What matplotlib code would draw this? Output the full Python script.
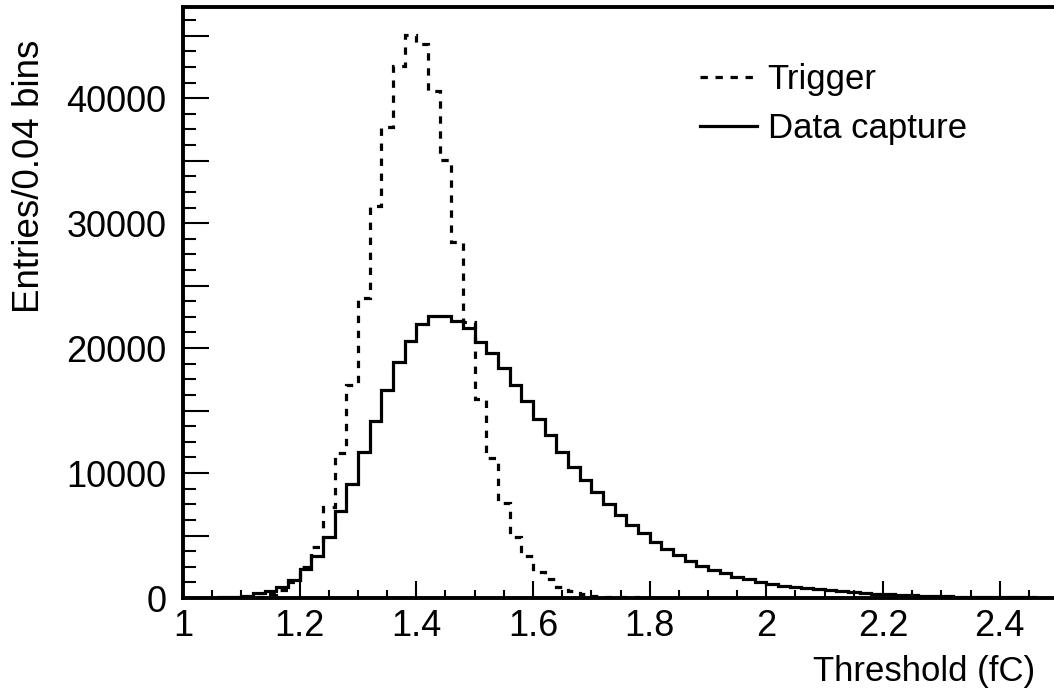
import numpy as np
import matplotlib.pyplot as plt
from matplotlib.ticker import MultipleLocator, FuncFormatter

plt.rcParams['font.family'] = ['Liberation Sans', 'DejaVu Sans']

# histogram binning (0.02 wide steps from 1.0 to 2.5)
edges = np.linspace(1.0, 2.5, 76)

trigger = [0, 0, 0, 5, 20, 50, 120, 300, 640, 1300,
           2500, 4100, 7300, 11600, 17040, 23980, 31400, 37700, 42580, 45060,
           44320, 40580, 35040, 28500, 22080, 15900, 11200, 7620, 4880, 3340,
           2100, 1500, 900, 550, 350, 200, 120, 80, 50, 30,
           20, 10, 8, 5, 4, 3, 2, 1, 1, 0,
           0, 0, 0, 0, 0, 0, 0, 0, 0, 0,
           0, 0, 0, 0, 0, 0, 0, 0, 0, 0,
           0, 0, 0, 0, 0]

capture = [5, 10, 20, 50, 100, 200, 370, 590, 900, 1440,
           2290, 3360, 4850, 6960, 9120, 11650, 14190, 16640, 18900, 20580,
           21900, 22560, 22530, 22180, 21580, 20500, 19580, 18380, 17040, 15800,
           14350, 13040, 11720, 10500, 9480, 8480, 7520, 6640, 5840, 5170,
           4510, 3950, 3410, 2980, 2560, 2240, 1970, 1710, 1490, 1310,
           1120, 990, 900, 800, 720, 620, 540, 470, 400, 340,
           290, 250, 210, 180, 150, 130, 110, 95, 80, 70,
           60, 50, 45, 40, 35]

series_labels = ['Trigger', 'Data capture']

fig = plt.figure(figsize=(10.54, 6.94), dpi=100)
ax = fig.add_axes([183/1054, 96/694, 875/1054, 591/694])

ax.stairs(trigger, edges, color='black', linewidth=2.3,
          linestyle=(0, (2.3, 2.4)), label=series_labels[0])
ax.stairs(capture, edges, color='black', linewidth=2.3,
          label=series_labels[1])

ax.set_xlim(1.0, 2.5)
ax.set_ylim(0, 47300)

ax.xaxis.set_major_locator(MultipleLocator(0.2))
ax.xaxis.set_minor_locator(MultipleLocator(0.05))
ax.yaxis.set_major_locator(MultipleLocator(5000))
ax.yaxis.set_minor_locator(MultipleLocator(1250))

def xfmt(v, pos):
    return ('%.1f' % v).rstrip('0').rstrip('.')

def yfmt(v, pos):
    # only every other major tick gets a label
    if int(round(v)) % 10000 == 0:
        return '%d' % int(round(v))
    return ''

ax.xaxis.set_major_formatter(FuncFormatter(xfmt))
ax.yaxis.set_major_formatter(FuncFormatter(yfmt))

ax.tick_params(axis='both', which='both', direction='in', width=1.5,
               labelsize=26, top=False, right=False)
ax.tick_params(axis='x', which='major', length=12, pad=8)
ax.tick_params(axis='x', which='minor', length=6)
ax.tick_params(axis='y', which='major', length=19, pad=12)
ax.tick_params(axis='y', which='minor', length=9.5)

for s in ax.spines.values():
    s.set_linewidth(2.8)

fig.text(1035/1054, 1 - 671/694, 'Threshold (fC)', ha='right', va='center',
         fontsize=25)
fig.text(30/1054, 1 - 40/694, 'Entries/0.04 bins', ha='center', va='top',
         rotation=90, fontsize=26.5)

ax.legend(loc='center left', bbox_to_anchor=(700/1054, 1 - 104/694),
          bbox_transform=fig.transFigure, frameon=False, fontsize=25,
          handlelength=1.65, handletextpad=0.3, borderpad=0, borderaxespad=0,
          labelspacing=0.45)

fig.savefig('out.png', dpi=100)
